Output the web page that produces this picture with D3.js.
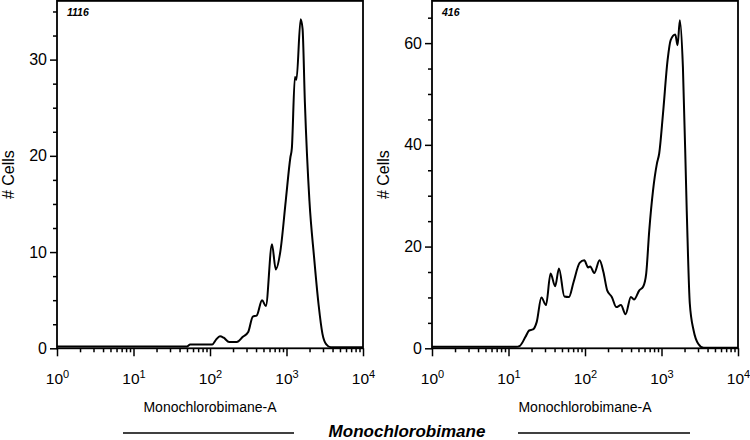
<!DOCTYPE html>
<html>
<head>
<meta charset="utf-8">
<script src="https://cdn.jsdelivr.net/npm/d3@7"></script>
<style>
  body { margin: 0; background: #fff; }
  svg { display: block; font-family: "Liberation Sans", Arial, sans-serif; }
</style>
</head>
<body>
<div id="chart"></div>
<script>
// Monochlorobimane-A intensity (linear units) and # cells
const leftX = [1, 50, 55, 107, 120, 135, 151, 178, 224, 269, 316, 363, 407, 479, 537, 646, 724, 832, 977,
  1122, 1175, 1288, 1349, 1531, 1622, 1738, 1995, 2291, 2630, 2951, 3311, 3802, 10000];
const leftY = [0.2, 0.2, 0.4, 0.4, 0.9, 1.25, 1.1, 0.65, 0.65, 1.2, 1.7, 3.3, 3.4, 5.0, 4.4, 10.8, 8.2, 10.1, 15.3,
  19.8, 20.8, 28.2, 27.9, 34.2, 33.2, 25.6, 15.3, 9.5, 4.5, 1.5, 0.4, 0.1, 0.1];

const rightX = [1, 12.6, 14.1, 16.6, 18.6, 20.9, 23.4, 26.9, 30.9, 35.5, 40.7, 45.7, 53.7, 61.7, 70.8, 85.1, 97.7,
  110, 117, 132, 155, 174, 195, 224, 257, 295, 339, 398, 437, 513, 575, 631, 692, 776, 871, 933, 1047,
  1202, 1318, 1514, 1622, 1738, 1905, 2138, 2344, 2630, 3020, 3548, 10000];
const rightY = [0.3, 0.3, 0.5, 2.2, 3.5, 3.7, 5.2, 10.0, 8.5, 14.7, 12.2, 15.7, 10.2, 10.1, 13.0, 16.8, 17.3,
  15.9, 16.1, 14.8, 17.3, 15.0, 11.4, 10.1, 8.1, 8.5, 6.7, 10.1, 9.6, 11.4, 12.1, 14.7, 23.2, 31.1, 36.3, 38.3, 46.2,
  56.7, 60.6, 61.7, 59.6, 64.5, 55.3, 27, 8.8, 3.5, 0.9, 0.1, 0.1];

const sampleNames = ["1116", "416"];
const yMajor = [[0, 10, 20, 30], [0, 20, 40, 60]];
const yMinorStep = [2.5, 5];
const yMax = [36.1, 68.3];
const xDecades = [1, 10, 100, 1000, 10000];
const xLabel = "Monochlorobimane-A";
const yLabel = "# Cells";
const stainLabel = "Monochlorobimane";

const width = 750, height = 440;
const svg = d3.select("#chart").append("svg")
  .attr("width", width)
  .attr("height", height);

const panels = [
  { x0: 57, x1: 363, xs: leftX, ys: leftY },
  { x0: 432, x1: 738, xs: rightX, ys: rightY }
];
const plotTop = 0.9, plotBottom = 348.3;

const minorX = [];
for (let d = 1; d < 10000; d *= 10) {
  for (let k = 2; k <= 9; k++) minorX.push(d * k);
}

panels.forEach((p, i) => {
  const x = d3.scaleLog().domain([1, 10000]).range([p.x0, p.x1]);
  const y = d3.scaleLinear().domain([0, yMax[i]]).range([plotBottom, plotTop]);
  const g = svg.append("g");

  // minor ticks first
  const minorY = d3.range(0, yMax[i], yMinorStep[i]).filter(v => !yMajor[i].includes(v));
  g.append("g")
      .attr("transform", `translate(0,${plotBottom})`)
      .call(d3.axisBottom(x).tickValues(minorX).tickSize(4).tickFormat(""))
      .call(a => a.select(".domain").remove());
  g.append("g")
      .attr("transform", `translate(${p.x0},0)`)
      .call(d3.axisLeft(y).tickValues(minorY).tickSize(4).tickFormat(""))
      .call(a => a.select(".domain").remove());

  // major x ticks with 10^n labels
  const xAxis = g.append("g")
      .attr("transform", `translate(0,${plotBottom})`)
      .call(d3.axisBottom(x).tickValues(xDecades).tickSize(8).tickFormat(""))
      .call(a => a.select(".domain").remove());
  xAxis.selectAll(".tick text")
      .attr("font-size", 15.5)
      .attr("fill", "#000")
      .attr("y", 36)
      .attr("dy", null)
      .each(function(d) {
        const t = d3.select(this);
        t.append("tspan").text("10");
        t.append("tspan").text(Math.round(Math.log10(d)))
          .attr("font-size", 11)
          .attr("dy", "-0.6em");
      });

  const yAxis = g.append("g")
      .attr("transform", `translate(${p.x0},0)`)
      .call(d3.axisLeft(y).tickValues(yMajor[i]).tickSize(7).tickPadding(3))
      .call(a => a.select(".domain").remove());
  yAxis.selectAll(".tick text").attr("font-size", 16).attr("fill", "#000");

  g.selectAll(".tick line").attr("stroke", "#000").attr("stroke-width", 1.5);
  g.selectAll("g").attr("font-family", null);

  // frame
  g.append("rect")
      .attr("x", p.x0)
      .attr("y", plotTop)
      .attr("width", p.x1 - p.x0)
      .attr("height", plotBottom - plotTop)
      .attr("fill", "none")
      .attr("stroke", "#000")
      .attr("stroke-width", 1.8);

  // histogram line
  const line = d3.line()
      .x((d, j) => x(p.xs[j]))
      .y(d => y(d))
      .curve(d3.curveMonotoneX);
  g.append("path")
      .datum(p.ys)
      .attr("d", line)
      .attr("fill", "none")
      .attr("stroke", "#000")
      .attr("stroke-width", 2)
      .attr("stroke-linejoin", "round");

  g.append("text")
      .attr("x", p.x0 + 10)
      .attr("y", 16)
      .attr("font-size", 10.5)
      .attr("font-weight", "bold")
      .attr("font-style", "italic")
      .text(sampleNames[i]);

  g.append("text")
      .attr("x", (p.x0 + p.x1) / 2)
      .attr("y", 412)
      .attr("text-anchor", "middle")
      .attr("font-size", 14)
      .text(xLabel);

  g.append("text")
      .attr("transform", `translate(${p.x0 - 43},${(plotTop + plotBottom) / 2}) rotate(-90)`)
      .attr("text-anchor", "middle")
      .attr("font-size", 16)
      .text(yLabel);
});

// bottom caption with rules
svg.append("line").attr("x1", 123).attr("x2", 294).attr("y1", 433).attr("y2", 433)
  .attr("stroke", "#000").attr("stroke-width", 1.3);
svg.append("line").attr("x1", 518).attr("x2", 690).attr("y1", 433).attr("y2", 433)
  .attr("stroke", "#000").attr("stroke-width", 1.3);
svg.append("text")
  .attr("x", 407)
  .attr("y", 437)
  .attr("text-anchor", "middle")
  .attr("font-size", 17)
  .attr("font-weight", "bold")
  .attr("font-style", "italic")
  .text(stainLabel);
</script>
</body>
</html>
